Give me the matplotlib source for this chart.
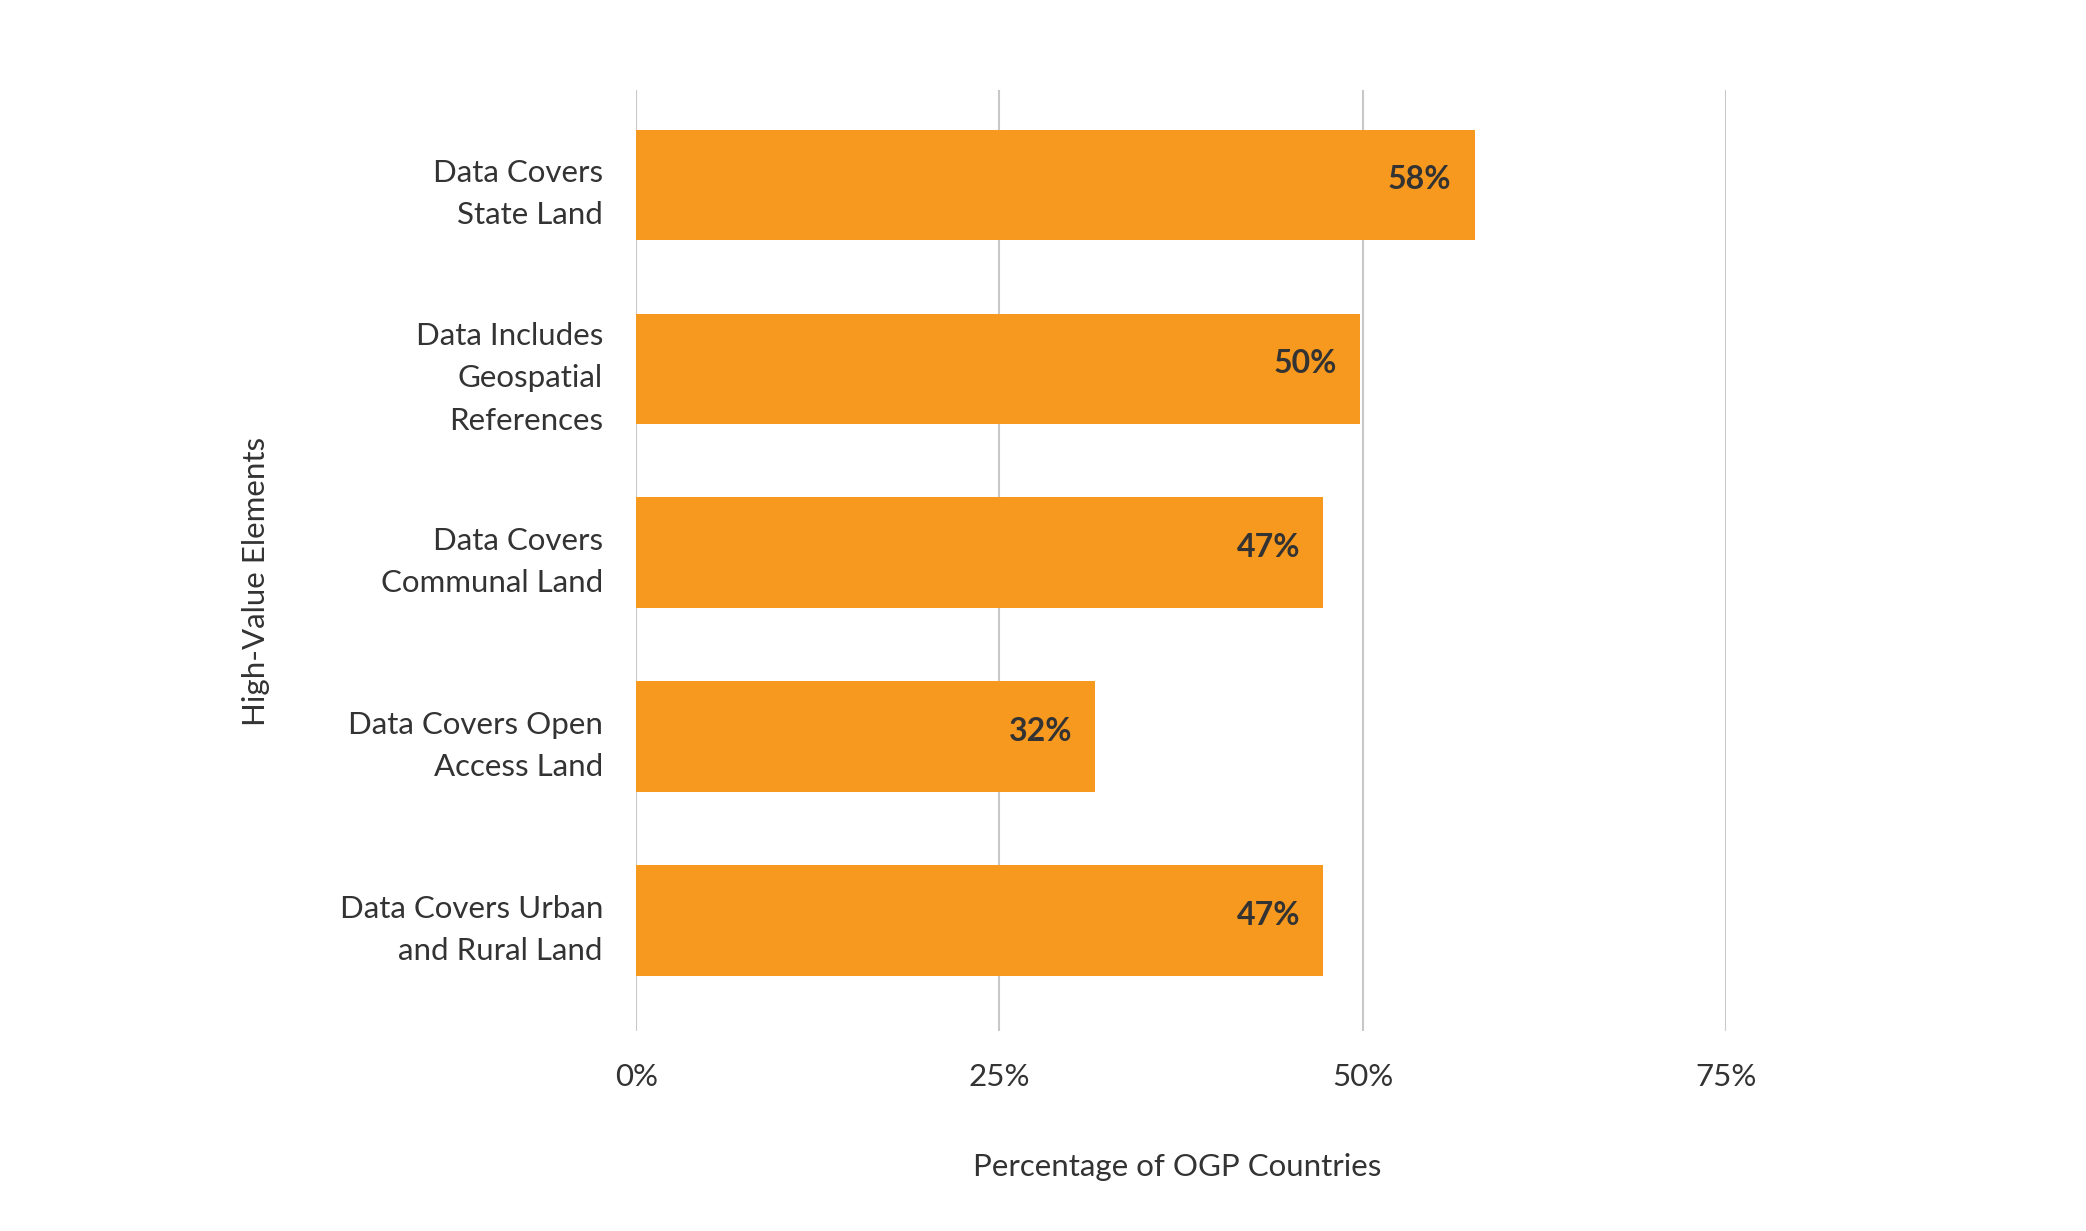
import matplotlib.pyplot as plt
from matplotlib.ticker import FuncFormatter

categories = [
    "Data Covers\nState Land",
    "Data Includes\nGeospatial\nReferences",
    "Data Covers\nCommunal Land",
    "Data Covers Open\nAccess Land",
    "Data Covers Urban\nand Rural Land",
]
values = [57.7, 49.8, 47.3, 31.6, 47.3]
value_labels = ["58%", "50%", "47%", "32%", "47%"]
x_ticks = [0, 25, 50, 75]

bar_color = "#F7991F"
text_color = "#333333"
grid_color = "#C8C8C8"

plt.rcParams['font.family'] = ['Lato', 'DejaVu Sans']


def main():
    fig = plt.figure(figsize=(20.86, 12.31), dpi=100)
    ax = fig.add_axes([0.3050, 0.1625, 0.5224, 0.7644])

    y = list(range(len(categories)))
    ax.barh(y, values, height=0.6, color=bar_color, zorder=2)

    # value labels inside the bar ends
    for yi, v, lab in zip(y, values, value_labels):
        ax.text(v - 1.6, yi - 0.03, lab, ha='right', va='center',
                fontsize=23, fontweight='bold', color=text_color, zorder=3)

    ax.set_xlim(0, 75)
    ax.set_ylim(4.60, -0.515)
    ax.set_xticks(x_ticks)
    ax.xaxis.set_major_formatter(FuncFormatter(lambda v, p: f"{v:.0f}%"))
    ax.set_yticks(y)
    ax.set_yticklabels(categories, linespacing=1.62)

    ax.grid(axis='x', color=grid_color, linewidth=1.5, zorder=0)
    for s in ax.spines.values():
        s.set_visible(False)
    ax.tick_params(axis='both', length=0, labelsize=22.5, labelcolor=text_color)
    ax.tick_params(axis='y', pad=24)
    ax.tick_params(axis='x', pad=23)

    ax.set_xlabel("Percentage of OGP Countries", fontsize=22.5, color=text_color)
    ax.xaxis.set_label_coords(0.496, -0.13)
    ax.set_ylabel("High-Value Elements", fontsize=22.5, color=text_color)
    ax.yaxis.set_label_coords(-0.336, 0.478)

    fig.savefig("out.png", dpi=100, facecolor='white')


if __name__ == "__main__":
    main()
